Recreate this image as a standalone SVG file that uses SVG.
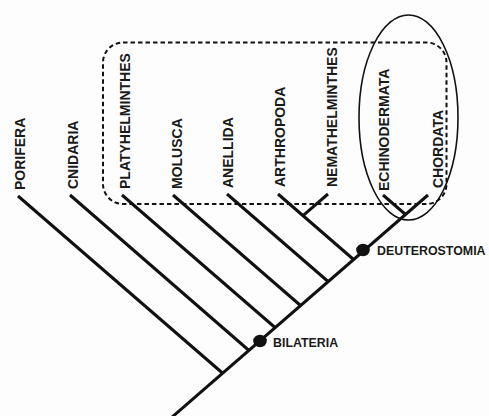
<svg xmlns="http://www.w3.org/2000/svg" width="489" height="416" viewBox="0 0 489 416">
  <style>
    .branch { stroke: #111; stroke-width: 3; stroke-linecap: butt; fill: none; }
    .taxon { font-family: "Liberation Sans", Arial, sans-serif; font-weight: bold; font-size: 14px; fill: #1a1a1a; }
    .clade { font-family: "Liberation Sans", Arial, sans-serif; font-weight: bold; font-size: 12.4px; fill: #1a1a1a; }
    .node-dot { fill: #111; }
    .group-box { fill: none; stroke: #111; stroke-width: 2; stroke-dasharray: 4.5 3; }
    .group-ring { fill: none; stroke: #111; stroke-width: 1.6; }
  </style>
  <rect width="489" height="416" fill="#fdfdfd"/>

  <!-- grouping outlines -->
  <rect id="protostome-box" class="group-box" x="103" y="42.5" width="343.5" height="161.5" rx="20" ry="20"/>
  <ellipse id="deuterostome-ring" class="group-ring" cx="408.5" cy="117.5" rx="49.5" ry="102.5"/>

  <!-- tree connectors -->
  <g id="connectors">
    <line class="branch" x1="171" y1="418" x2="428" y2="195"/>
    <line class="branch" x1="18" y1="196" x2="223" y2="373.5"/>
    <line class="branch" x1="70" y1="195" x2="249" y2="350.5"/>
    <line class="branch" x1="122" y1="195" x2="275" y2="327.5"/>
    <line class="branch" x1="173" y1="195" x2="300.5" y2="305.5"/>
    <line class="branch" x1="227" y1="194" x2="327.5" y2="281"/>
    <line class="branch" x1="278" y1="194" x2="353" y2="259"/>
    <line class="branch" x1="328" y1="194" x2="303" y2="215.7"/>
    <line class="branch" x1="383" y1="195" x2="405.5" y2="214.5"/>
  </g>

  <!-- taxa -->
  <g id="porifera"><text class="taxon" transform="translate(25,190) rotate(-90)">PORIFERA</text></g>
  <g id="cnidaria"><text class="taxon" transform="translate(78,189) rotate(-90)">CNIDARIA</text></g>
  <g id="platyhelminthes"><text class="taxon" transform="translate(129.5,189) rotate(-90)">PLATYHELMINTHES</text></g>
  <g id="molusca"><text class="taxon" transform="translate(181.5,189) rotate(-90)">MOLUSCA</text></g>
  <g id="anellida"><text class="taxon" transform="translate(232.5,188) rotate(-90)">ANELLIDA</text></g>
  <g id="arthropoda"><text class="taxon" transform="translate(285,187) rotate(-90)">ARTHROPODA</text></g>
  <g id="nemathelminthes"><text class="taxon" transform="translate(337,187) rotate(-90)">NEMATHELMINTHES</text></g>
  <g id="echinodermata"><text class="taxon" transform="translate(388.5,191) rotate(-90)">ECHINODERMATA</text></g>
  <g id="chordata"><text class="taxon" transform="translate(443,188) rotate(-90)">CHORDATA</text></g>

  <!-- clade nodes -->
  <g id="bilateria">
    <ellipse class="node-dot" cx="260" cy="341" rx="6.8" ry="6.2"/>
    <text class="clade" x="273" y="347">BILATERIA</text>
  </g>
  <g id="deuterostomia">
    <ellipse class="node-dot" cx="363" cy="250" rx="6.8" ry="6.2"/>
    <text class="clade" x="377" y="254.5">DEUTEROSTOMIA</text>
  </g>
</svg>
